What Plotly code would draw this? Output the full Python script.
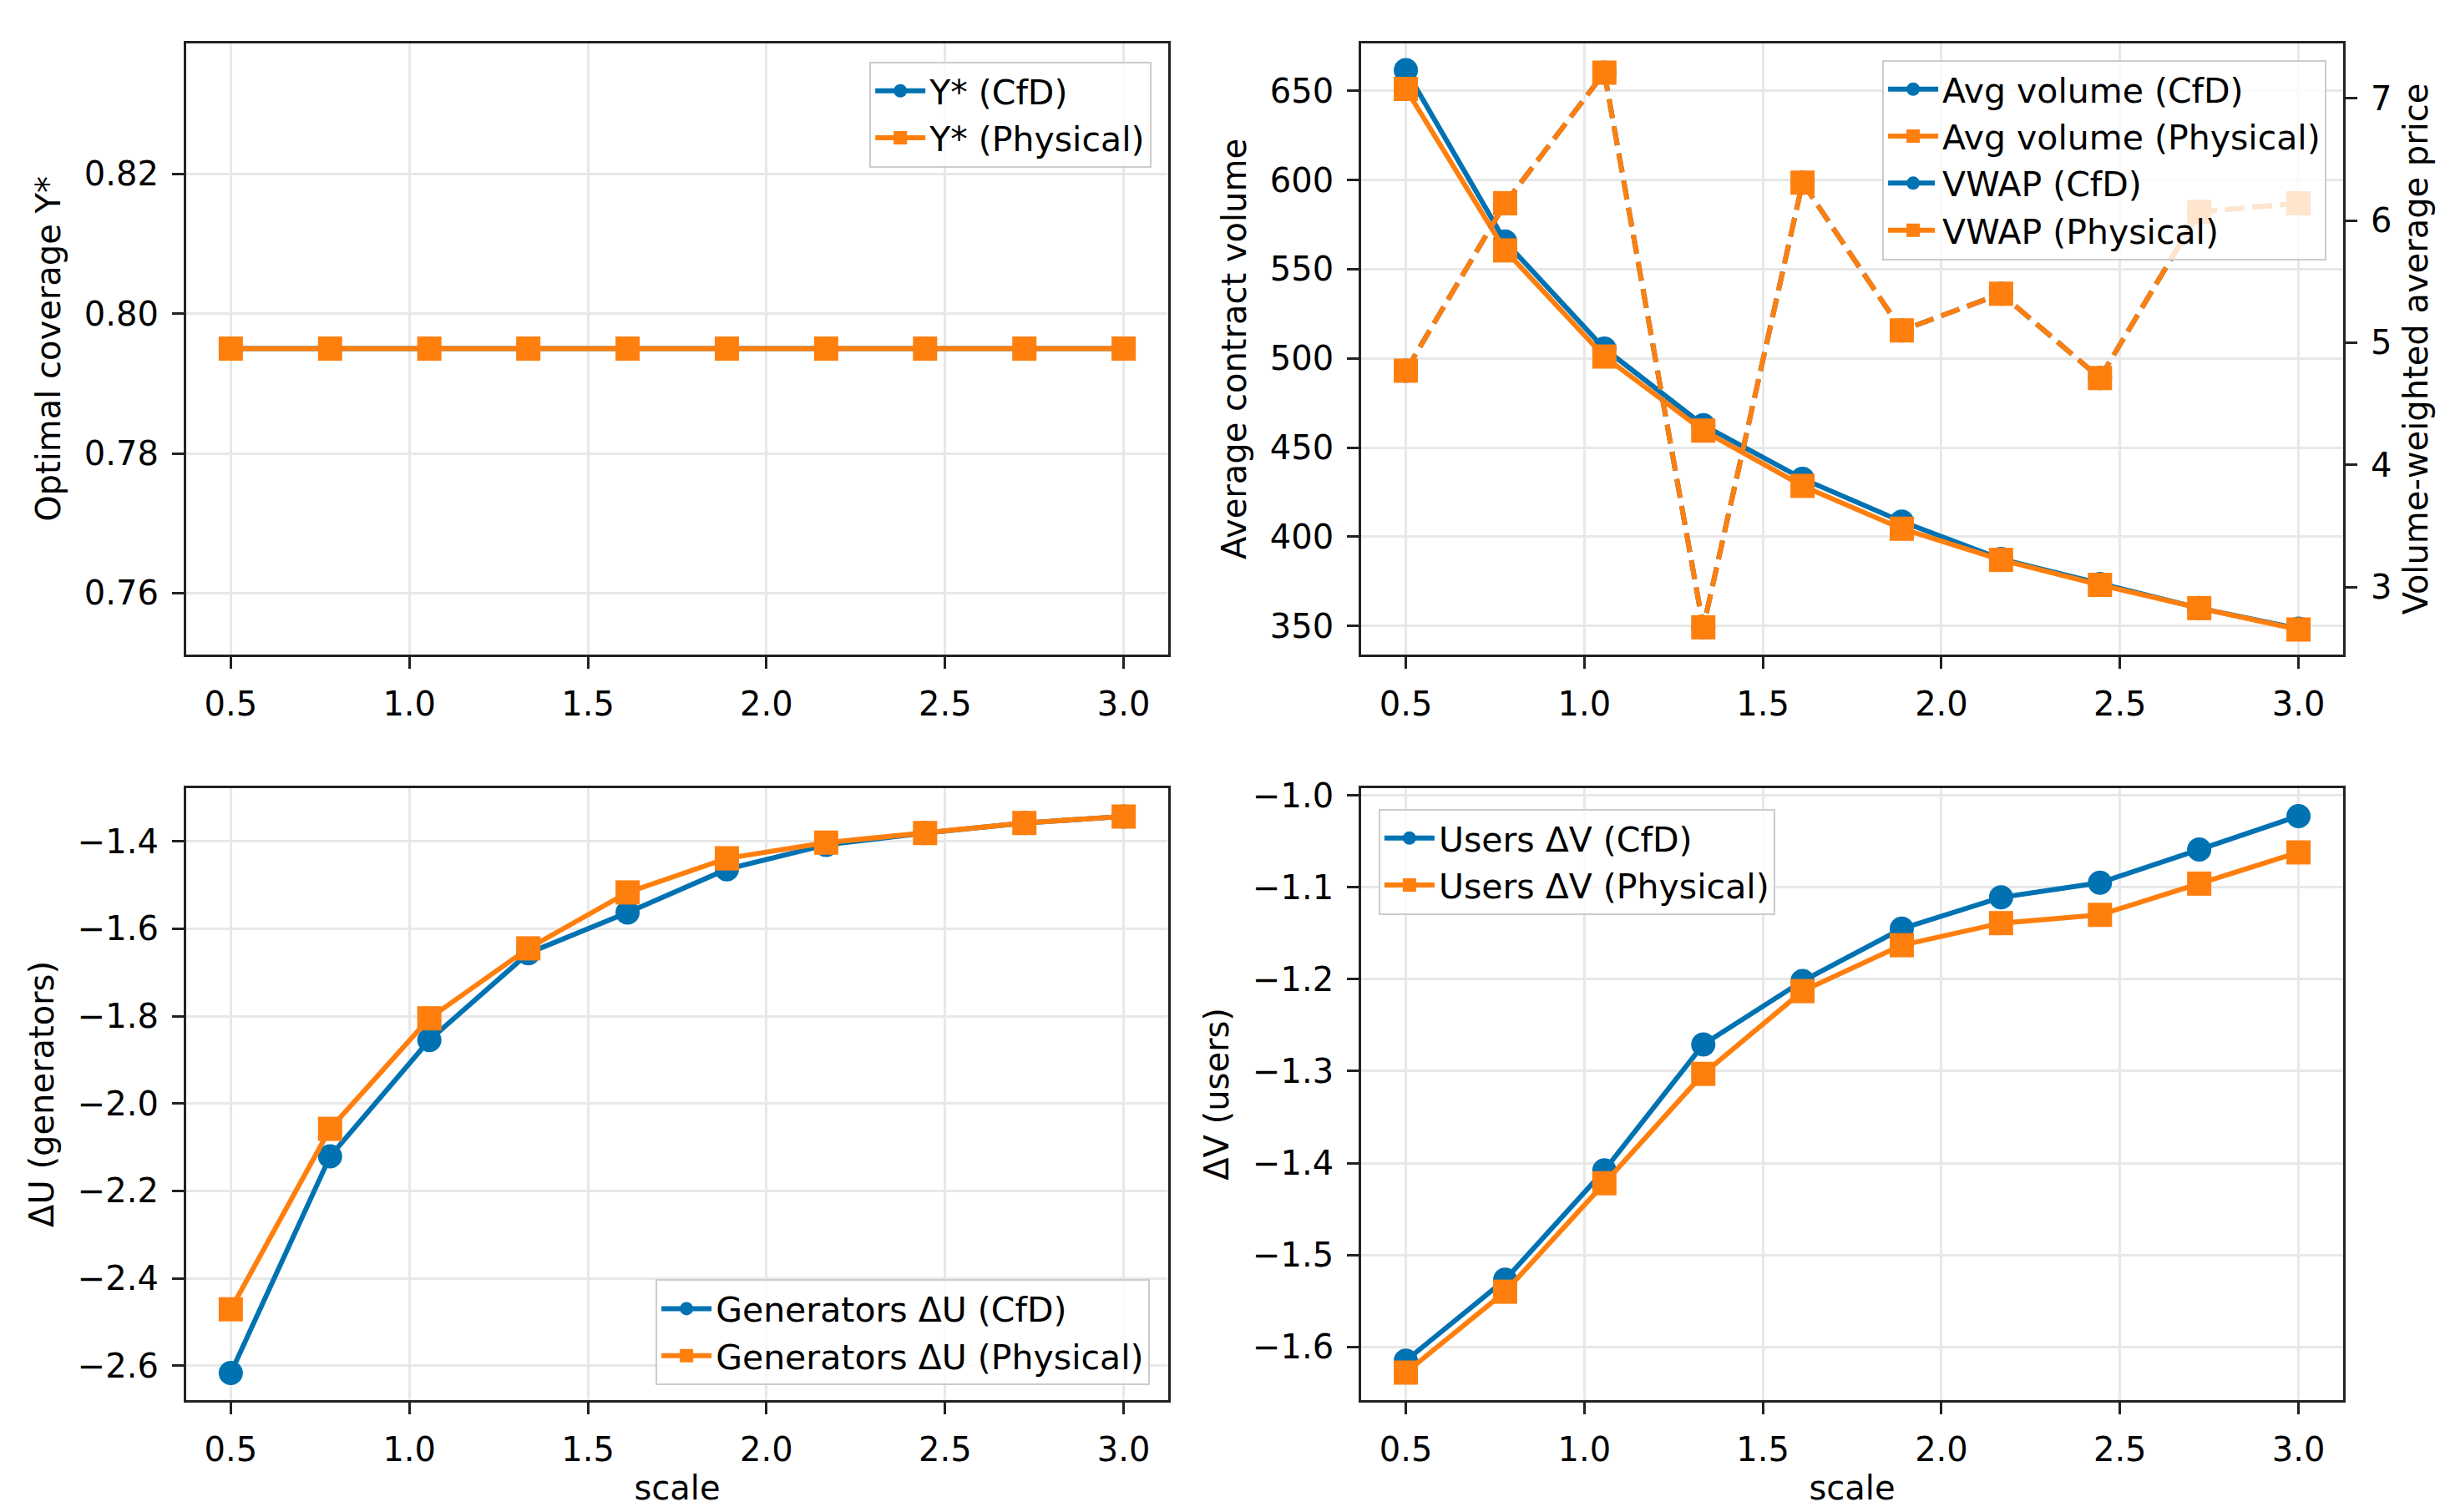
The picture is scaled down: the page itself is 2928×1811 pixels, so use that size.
import plotly.graph_objects as go

# shared x values (scale)
scale = [0.5, 0.778, 1.056, 1.333, 1.611, 1.889, 2.167, 2.444, 2.722, 3.0]

# top-left: optimal coverage
ystar_cfd = [0.795, 0.795, 0.795, 0.795, 0.795, 0.795, 0.795, 0.795, 0.795, 0.795]
ystar_phys = [0.795, 0.795, 0.795, 0.795, 0.795, 0.795, 0.795, 0.795, 0.795, 0.795]

# top-right: average contract volume + VWAP
vol_cfd = [661.5, 565.5, 505.5, 462.5, 432.5, 408.5, 387.5, 373.5, 360.0, 348.5]
vol_phys = [651.0, 560.5, 501.0, 459.5, 428.5, 404.5, 387.0, 373.0, 360.0, 348.0]
vwap_cfd = [4.77, 6.14, 7.21, 2.67, 6.31, 5.10, 5.40, 4.71, 6.07, 6.14]
vwap_phys = [4.77, 6.14, 7.21, 2.67, 6.31, 5.10, 5.40, 4.71, 6.07, 6.14]

# bottom-left: generators
gen_cfd = [-2.617, -2.121, -1.855, -1.656, -1.563, -1.464, -1.408, -1.381, -1.358, -1.343]
gen_phys = [-2.471, -2.058, -1.805, -1.645, -1.517, -1.439, -1.403, -1.381, -1.358, -1.343]

# bottom-right: users
users_cfd = [-1.615, -1.527, -1.408, -1.271, -1.202, -1.145, -1.111, -1.095, -1.059, -1.0225]
users_phys = [-1.628, -1.540, -1.422, -1.303, -1.213, -1.163, -1.139, -1.130, -1.096, -1.062]

BLUE = "#0072B2"
ORANGE = "#FF7F0E"
FONT = "DejaVu Sans"
FS = 40
LW = 6
MS = 29


def series(x, y, name, color, symbol, xa, ya, legend, dash="solid"):
    return go.Scatter(
        x=x, y=y, name=name, mode="lines+markers",
        line=dict(color=color, width=LW, dash=dash),
        marker=dict(color=color, symbol=symbol, size=MS, line=dict(width=0)),
        xaxis=xa, yaxis=ya, legend=legend,
    )


fig = go.Figure()

fig.add_trace(series(scale, ystar_cfd, "Y* (CfD)", BLUE, "circle", "x", "y", "legend"))
fig.add_trace(series(scale, ystar_phys, "Y* (Physical)", ORANGE, "square", "x", "y", "legend"))

fig.add_trace(series(scale, vol_cfd, "Avg volume (CfD)", BLUE, "circle", "x2", "y2", "legend2"))
fig.add_trace(series(scale, vol_phys, "Avg volume (Physical)", ORANGE, "square", "x2", "y2", "legend2"))
fig.add_trace(series(scale, vwap_cfd, "VWAP (CfD)", BLUE, "circle", "x2", "y5", "legend2", dash="23px,10px"))
fig.add_trace(series(scale, vwap_phys, "VWAP (Physical)", ORANGE, "square", "x2", "y5", "legend2", dash="23px,10px"))

fig.add_trace(series(scale, gen_cfd, "Generators ΔU (CfD)", BLUE, "circle", "x3", "y3", "legend3"))
fig.add_trace(series(scale, gen_phys, "Generators ΔU (Physical)", ORANGE, "square", "x3", "y3", "legend3"))

fig.add_trace(series(scale, users_cfd, "Users ΔV (CfD)", BLUE, "circle", "x4", "y4", "legend4"))
fig.add_trace(series(scale, users_phys, "Users ΔV (Physical)", ORANGE, "square", "x4", "y4", "legend4"))

# common axis look (matplotlib-ish)
axis_style = dict(
    showline=True, mirror=True, linecolor="#222222", linewidth=3,
    ticks="outside", ticklen=14, tickwidth=3, tickcolor="#222222",
    showgrid=True, gridcolor="#e8e8e8", gridwidth=3, zeroline=False,
    tickfont=dict(size=FS, color="black"), ticklabelstandoff=8,
)

left_dom = [0.0734, 0.4751]
right_dom = [0.5540, 0.9556]
top_dom = [0.5759, 0.9834]
bot_dom = [0.0790, 0.4870]
x_range = [0.375, 3.125]
x_ticks = [0.5, 1.0, 1.5, 2.0, 2.5, 3.0]

def xaxis(dom, anchor, title=None):
    d = dict(axis_style, domain=dom, anchor=anchor, range=x_range,
             tickvals=x_ticks, tickformat=".1f")
    if title:
        d["title"] = dict(text=title, font=dict(size=FS, color="black"), standoff=10)
    return d

def yaxis(dom, anchor, title, rng, ticks, fmt):
    return dict(axis_style, domain=dom, anchor=anchor, range=rng, tickvals=ticks,
                tickformat=fmt,
                title=dict(text=title, font=dict(size=FS, color="black"), standoff=16))

legend_style = dict(
    font=dict(size=FS + 1, color="black", family=FONT), bgcolor="rgba(255,255,255,0.8)",
    bordercolor="#cccccc", borderwidth=2, itemwidth=60, itemsizing="trace",
    tracegroupgap=0,
)

fig.update_layout(
    width=2928, height=1811,
    margin=dict(l=0, r=0, t=0, b=0),
    paper_bgcolor="white", plot_bgcolor="white",
    font=dict(family=FONT, size=FS, color="black"),
    xaxis=xaxis(left_dom, "y"),
    yaxis=yaxis(top_dom, "x", "Optimal coverage Y*", [0.7512, 0.8387],
                [0.76, 0.78, 0.80, 0.82], ".2f"),
    xaxis2=xaxis(right_dom, "y2"),
    yaxis2=yaxis(top_dom, "x2", "Average contract volume", [333.9, 676.6],
                 [350, 400, 450, 500, 550, 600, 650], "d"),
    yaxis5=dict(yaxis(top_dom, "x2", "Volume-weighted average price", [2.446, 7.45],
                      [3, 4, 5, 6, 7], "d"),
                overlaying="y2", side="right", showgrid=False, mirror=False),
    xaxis3=xaxis(left_dom, "y3", "scale"),
    yaxis3=yaxis(bot_dom, "x3", "ΔU (generators)", [-2.679, -1.278],
                 [-2.6, -2.4, -2.2, -2.0, -1.8, -1.6, -1.4], ".1f"),
    xaxis4=xaxis(right_dom, "y4", "scale"),
    yaxis4=yaxis(bot_dom, "x4", "ΔV (users)", [-1.658, -0.992],
                 [-1.6, -1.5, -1.4, -1.3, -1.2, -1.1, -1.0], ".1f"),
    legend=dict(legend_style, x=0.4683, xanchor="right", y=0.9713, yanchor="top"),
    legend2=dict(legend_style, x=0.9488, xanchor="right", y=0.9724, yanchor="top"),
    legend3=dict(legend_style, x=0.4676, xanchor="right", y=0.0889, yanchor="bottom"),
    legend4=dict(legend_style, x=0.5611, xanchor="left", y=0.4732, yanchor="top"),
)

fig.write_html("out.html")
